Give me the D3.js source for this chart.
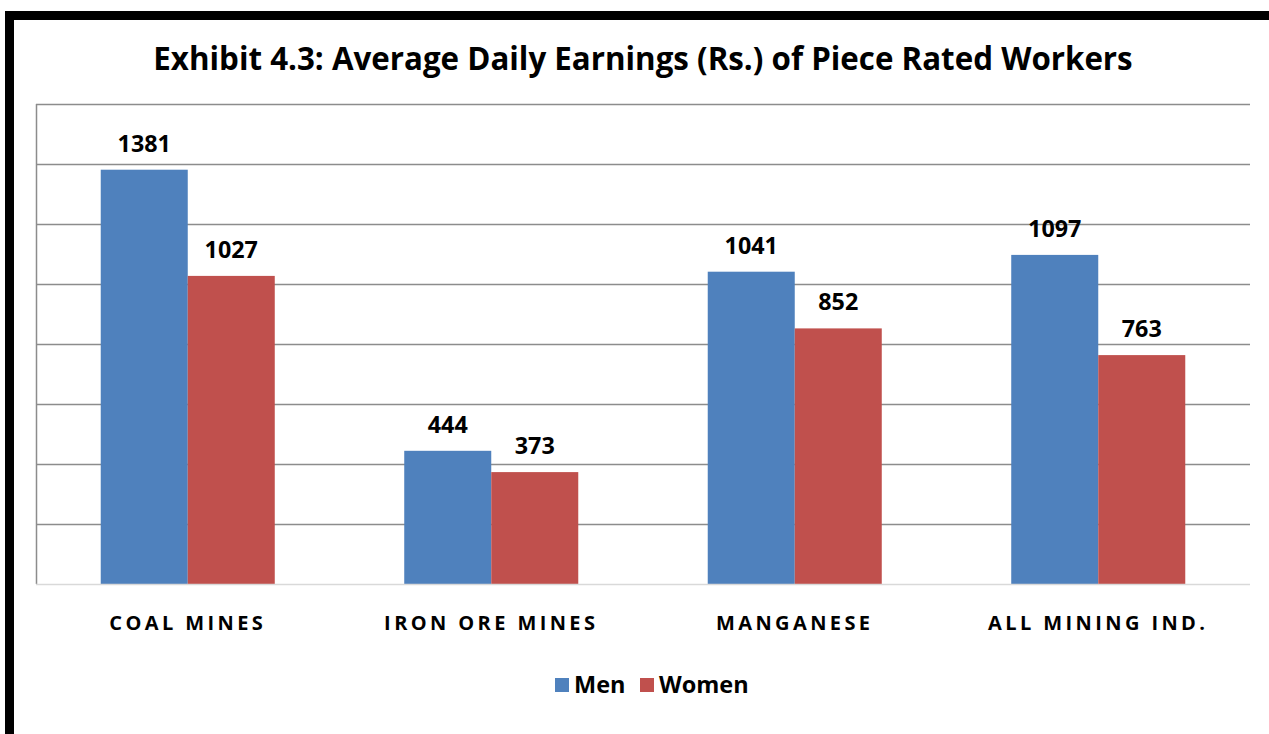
<!DOCTYPE html>
<html>
<head>
<meta charset="utf-8">
<script src="https://cdn.jsdelivr.net/npm/d3@7"></script>
<style>
  html, body { margin: 0; padding: 0; background: #fff; }
  svg { display: block; }
  text { font-family: "Open Sans", Lato, sans-serif; font-weight: bold; fill: #000; }
</style>
</head>
<body>
<svg id="chart" width="1269" height="734"></svg>
<script>
const categories = ["COAL MINES", "IRON ORE MINES", "MANGANESE", "ALL MINING IND."];
const seriesNames = ["Men", "Women"];
const men = [1381, 444, 1041, 1097];
const women = [1027, 373, 852, 763];
const yTicks = [0, 200, 400, 600, 800, 1000, 1200, 1400, 1600];
const colors = ["#4F81BD", "#C0504D"];

const width = 1269, height = 734;
const plot = { left: 36, right: 1250, top: 104, bottom: 584 };

const svg = d3.select("#chart");

// frame (thick black border on top and left)
svg.append("path")
  .attr("d", `M9.5,734 V15.5 H1269`)
  .attr("fill", "none")
  .attr("stroke", "#000")
  .attr("stroke-width", 9);

svg.append("text")
  .attr("x", 643)
  .attr("y", 70)
  .attr("text-anchor", "middle")
  .style("font-size", "31.3px")
  .text("Exhibit 4.3: Average Daily Earnings (Rs.) of Piece Rated Workers");

const x = d3.scaleBand()
  .domain(categories)
  .range([plot.left, plot.right])
  .paddingInner(0.4266)
  .paddingOuter(0.2133);

const xs = d3.scaleBand()
  .domain(seriesNames)
  .range([0, x.bandwidth()]);

const y = d3.scaleLinear()
  .domain([0, 1600])
  .range([plot.bottom, plot.top]);

// gridlines
svg.append("g")
  .selectAll("line")
  .data(yTicks.slice(1))
  .join("line")
  .attr("x1", plot.left)
  .attr("x2", plot.right)
  .attr("y1", d => Math.round(y(d)) + 0.5)
  .attr("y2", d => Math.round(y(d)) + 0.5)
  .attr("stroke", "#8c8c8c")
  .attr("stroke-width", 1.5);

// left axis
svg.append("line")
  .attr("x1", plot.left + 0.5).attr("x2", plot.left + 0.5)
  .attr("y1", plot.top).attr("y2", plot.bottom)
  .attr("stroke", "#8c8c8c")
  .attr("stroke-width", 1.5);

const rows = categories.map((c, i) => ({ cat: c, values: [men[i], women[i]] }));

const groups = svg.append("g")
  .selectAll("g")
  .data(rows)
  .join("g")
  .attr("transform", d => `translate(${x(d.cat)},0)`);

groups.selectAll("rect")
  .data(d => d.values.map((v, j) => ({ name: seriesNames[j], v, j })))
  .join("rect")
  .attr("x", d => xs(d.name))
  .attr("y", d => y(d.v))
  .attr("width", xs.bandwidth())
  .attr("height", d => y(0) - y(d.v))
  .attr("fill", d => colors[d.j]);

groups.selectAll("text")
  .data(d => d.values.map((v, j) => ({ name: seriesNames[j], v, j })))
  .join("text")
  .attr("x", d => xs(d.name) + xs.bandwidth() / 2)
  .attr("y", d => y(d.v) - 18)
  .attr("text-anchor", "middle")
  .style("font-size", "23.3px")
  .text(d => d.v);

// baseline
svg.append("line")
  .attr("x1", plot.left).attr("x2", plot.right)
  .attr("y1", plot.bottom + 0.5).attr("y2", plot.bottom + 0.5)
  .attr("stroke", "#d9d9d9")
  .attr("stroke-width", 1.5);

// category labels
svg.append("g")
  .selectAll("text")
  .data(categories)
  .join("text")
  .attr("x", d => x(d) + x.bandwidth() / 2)
  .attr("y", 630)
  .attr("text-anchor", "middle")
  .style("font-size", "20px")
  .style("letter-spacing", "3.4px")
  .text(d => d);

// legend
const legend = svg.append("g").attr("transform", "translate(555,678)");
const items = [{ name: "Men", x: 0 }, { name: "Women", x: 85 }];
items.forEach((it, i) => {
  legend.append("rect")
    .attr("x", it.x).attr("y", 0)
    .attr("width", 14).attr("height", 14)
    .attr("fill", colors[i]);
  legend.append("text")
    .attr("x", it.x + 19).attr("y", 15)
    .style("font-size", "23.5px")
    .text(it.name);
});
</script>
</body>
</html>
